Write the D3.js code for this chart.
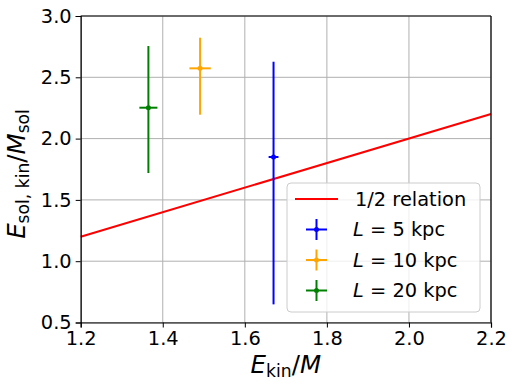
<!DOCTYPE html>
<html>
<head>
<meta charset="utf-8">
<script src="https://cdn.jsdelivr.net/npm/d3@7"></script>
<style>
  body { margin: 0; background: #fff; }
  svg { font-family: "DejaVu Sans", sans-serif; }
</style>
</head>
<body>
<div id="viz-container"></div>
<script>
// Chart data
let seriesLabels = ['5', '10', '20'];          // L values in kpc
let seriesColors = ['#0000ff', '#ffa500', '#008000'];
let xVals = [1.670, 1.491, 1.365];
let xErr = [0.012, 0.026, 0.022];
let yVals = [1.850, 2.573, 2.252];
let yLow = [0.648, 2.195, 1.719];
let yHigh = [2.627, 2.823, 2.755];

// 1/2 relation line
let relX = [1.2, 2.2];
let relY = [1.2, 2.2];

let xTicks = [1.2, 1.4, 1.6, 1.8, 2.0, 2.2];
let yTicks = [0.5, 1.0, 1.5, 2.0, 2.5, 3.0];

let width = 516, height = 388;
let margin = {left: 80.7, right: 25, top: 16, bottom: 65.5};
let fs = 19.4;

let svg = d3.select('#viz-container').append('svg')
    .attr('width', width).attr('height', height);

let x = d3.scaleLinear().domain([1.2, 2.2]).range([margin.left, width - margin.right]);
let y = d3.scaleLinear().domain([0.5, 3.0]).range([height - margin.bottom, margin.top]);

// Grid
let grid = svg.append('g');
grid.selectAll('line.gx').data(xTicks).enter().append('line')
    .attr('x1', d => x(d)).attr('x2', d => x(d))
    .attr('y1', y(0.5)).attr('y2', y(3.0))
    .attr('stroke', '#b0b0b0').attr('stroke-width', 1);
grid.selectAll('line.gy').data(yTicks).enter().append('line')
    .attr('y1', d => y(d)).attr('y2', d => y(d))
    .attr('x1', x(1.2)).attr('x2', x(2.2))
    .attr('stroke', '#b0b0b0').attr('stroke-width', 1);

// Relation line
svg.append('path')
    .datum(relX.map((v, i) => [v, relY[i]]))
    .attr('fill', 'none').attr('stroke', '#ff0000').attr('stroke-width', 2)
    .attr('d', d3.line().x(d => x(d[0])).y(d => y(d[1])));

// Error bars
let bars = svg.selectAll('g.bar').data(xVals).enter().append('g');
bars.append('line')
    .attr('x1', (d, i) => x(d)).attr('x2', (d, i) => x(d))
    .attr('y1', (d, i) => y(yLow[i])).attr('y2', (d, i) => y(yHigh[i]))
    .attr('stroke', (d, i) => seriesColors[i]).attr('stroke-width', 2);
bars.append('line')
    .attr('x1', (d, i) => x(d - xErr[i])).attr('x2', (d, i) => x(d + xErr[i]))
    .attr('y1', (d, i) => y(yVals[i])).attr('y2', (d, i) => y(yVals[i]))
    .attr('stroke', (d, i) => seriesColors[i]).attr('stroke-width', 2);
bars.append('circle')
    .attr('cx', d => x(d)).attr('cy', (d, i) => y(yVals[i]))
    .attr('r', 2.5).attr('fill', (d, i) => seriesColors[i]);

// Axes
let xAxis = svg.append('g')
    .attr('transform', 'translate(0,' + y(0.5) + ')')
    .call(d3.axisBottom(x).tickValues(xTicks).tickFormat(d3.format('.1f')).tickSizeOuter(0).tickSize(5).tickPadding(4));
let yAxis = svg.append('g')
    .attr('transform', 'translate(' + x(1.2) + ',0)')
    .call(d3.axisLeft(y).tickValues(yTicks).tickFormat(d3.format('.1f')).tickSizeOuter(0).tickSize(5).tickPadding(4));
[xAxis, yAxis].forEach(a => {
    a.selectAll('text').attr('font-size', fs).attr('fill', '#000')
        .attr('font-family', '"DejaVu Sans", sans-serif');
    a.selectAll('line').attr('stroke', '#000').attr('stroke-width', 1);
    a.select('.domain').attr('stroke', '#000').attr('stroke-width', 1.2);
});
// top and right spines
svg.append('line').attr('x1', x(1.2)).attr('x2', x(2.2)).attr('y1', y(3.0)).attr('y2', y(3.0))
    .attr('stroke', '#000').attr('stroke-width', 1.2);
svg.append('line').attr('x1', x(2.2)).attr('x2', x(2.2)).attr('y1', y(3.0)).attr('y2', y(0.5))
    .attr('stroke', '#000').attr('stroke-width', 1.2);

// Axis labels
let lfs = 24.5;
let xl = svg.append('text')
    .attr('x', (x(1.2) + x(2.2)) / 2).attr('y', 373)
    .attr('text-anchor', 'middle').attr('font-size', lfs);
xl.append('tspan').attr('font-style', 'italic').text('E');
xl.append('tspan').attr('font-size', lfs * 0.7).attr('dy', 4).text('kin');
xl.append('tspan').attr('dy', -4).text('/');
xl.append('tspan').attr('font-style', 'italic').text('M');

let yl = svg.append('text')
    .attr('transform', 'translate(25,' + 174 + ') rotate(-90)')
    .attr('text-anchor', 'middle').attr('font-size', lfs);
yl.append('tspan').attr('font-style', 'italic').text('E');
yl.append('tspan').attr('font-size', lfs * 0.7).attr('dy', 4).text('sol, kin');
yl.append('tspan').attr('dy', -4).text('/');
yl.append('tspan').attr('font-style', 'italic').text('M');
yl.append('tspan').attr('font-size', lfs * 0.7).attr('dy', 4).text('sol');

// Legend
let leg = svg.append('g');
leg.append('rect')
    .attr('x', 287).attr('y', 183).attr('width', 193).attr('height', 129)
    .attr('rx', 4).attr('fill', '#fff').attr('fill-opacity', 0.8)
    .attr('stroke', '#cccccc').attr('stroke-width', 1);
let rowY = [199, 229.5, 260, 290.5];
leg.append('line').attr('x1', 295).attr('x2', 338).attr('y1', rowY[0]).attr('y2', rowY[0])
    .attr('stroke', '#ff0000').attr('stroke-width', 2);
leg.append('text').attr('x', 355).attr('y', rowY[0]).attr('dy', '0.35em')
    .attr('font-size', fs).text('1/2 relation');
seriesLabels.forEach((lab, i) => {
    let cy = rowY[i + 1];
    let c = seriesColors[i];
    leg.append('line').attr('x1', 316.5).attr('x2', 316.5).attr('y1', cy - 10.5).attr('y2', cy + 10.5)
        .attr('stroke', c).attr('stroke-width', 2);
    leg.append('line').attr('x1', 306).attr('x2', 327).attr('y1', cy).attr('y2', cy)
        .attr('stroke', c).attr('stroke-width', 2);
    leg.append('circle').attr('cx', 316.5).attr('cy', cy).attr('r', 2.5).attr('fill', c);
    let t = leg.append('text').attr('x', 353).attr('y', cy).attr('dy', '0.35em').attr('font-size', fs);
    t.append('tspan').attr('font-style', 'italic').text('L');
    t.append('tspan').text(' = ' + lab + ' kpc');
});
</script>
</body>
</html>
